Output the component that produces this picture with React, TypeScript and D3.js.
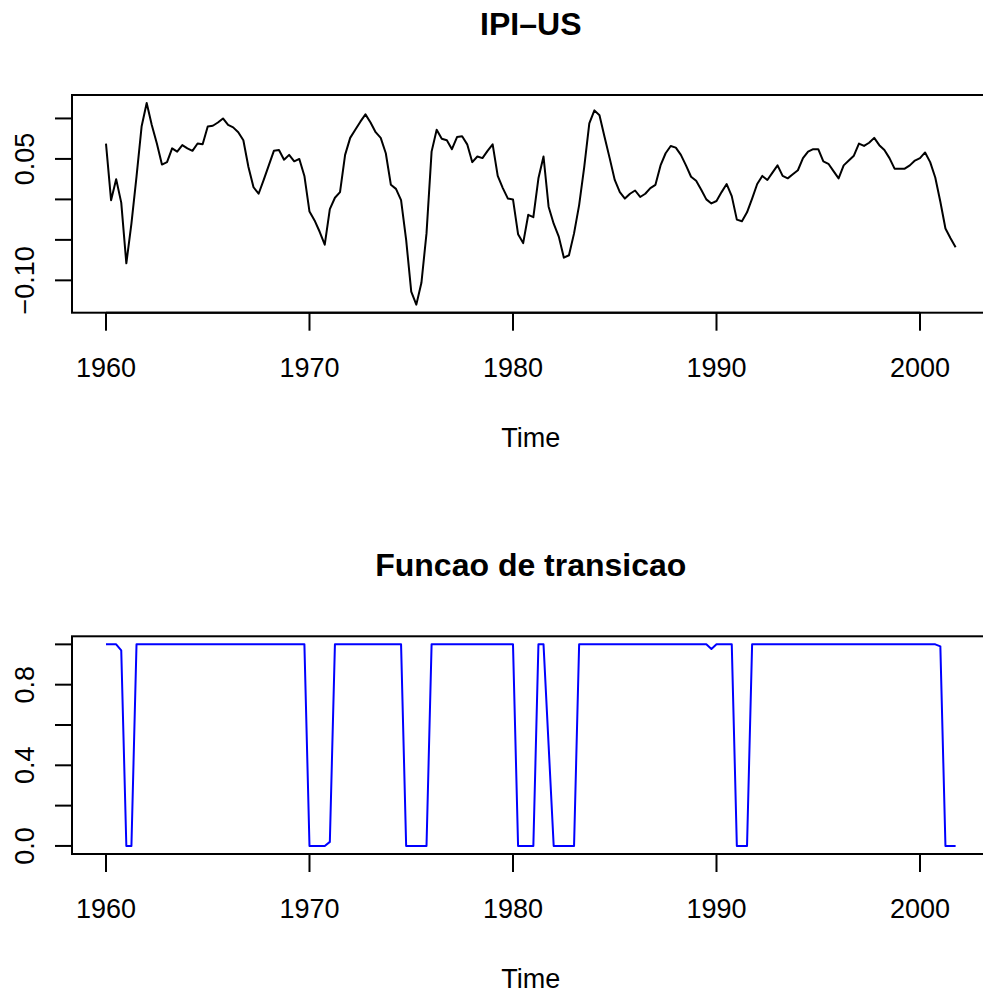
import React from "react";
import * as d3 from "d3";

const startYear = 1960;
const frequency = 4;

const ipiValues: number[] = [
  0.069, -0.001, 0.025, -0.004, -0.079, -0.030, 0.028, 0.090, 0.119, 0.092,
  0.069, 0.043, 0.046, 0.063, 0.059, 0.067, 0.063, 0.060, 0.069, 0.068,
  0.090, 0.091, 0.095, 0.100, 0.092, 0.089, 0.083, 0.073, 0.040, 0.015,
  0.007, 0.024, 0.042, 0.060, 0.061, 0.049, 0.055, 0.047, 0.050, 0.029,
  -0.015, -0.026, -0.040, -0.056, -0.012, 0.002, 0.009, 0.055, 0.076, 0.086,
  0.096, 0.105, 0.095, 0.083, 0.076, 0.057, 0.018, 0.013, -0.001, -0.050,
  -0.114, -0.130, -0.103, -0.042, 0.059, 0.086, 0.075, 0.073, 0.062, 0.077,
  0.078, 0.068, 0.046, 0.053, 0.051, 0.060, 0.068, 0.029, 0.014, 0.001,
  0.000, -0.043, -0.054, -0.019, -0.022, 0.026, 0.053, -0.009, -0.030, -0.046,
  -0.072, -0.069, -0.042, -0.007, 0.040, 0.094, 0.110, 0.104, 0.077, 0.051,
  0.024, 0.009, 0.001, 0.007, 0.011, 0.003, 0.007, 0.014, 0.018, 0.042,
  0.057, 0.066, 0.064, 0.055, 0.042, 0.028, 0.023, 0.012, 0.000, -0.005,
  -0.002, 0.009, 0.019, 0.004, -0.025, -0.027, -0.016, 0.001, 0.019, 0.029,
  0.024, 0.033, 0.042, 0.029, 0.026, 0.031, 0.036, 0.051, 0.059, 0.062,
  0.062, 0.047, 0.044, 0.035, 0.026, 0.042, 0.048, 0.054, 0.069, 0.066,
  0.070, 0.076, 0.067, 0.061, 0.051, 0.038, 0.038, 0.038, 0.042, 0.048,
  0.051, 0.058, 0.046, 0.027, -0.003, -0.036, -0.048, -0.059,
];

const transitionValues: number[] = [
  1, 1, 1, 0.97, 0, 0, 1, 1, 1, 1,
  1, 1, 1, 1, 1, 1, 1, 1, 1, 1,
  1, 1, 1, 1, 1, 1, 1, 1, 1, 1,
  1, 1, 1, 1, 1, 1, 1, 1, 1, 1,
  0, 0, 0, 0, 0.02, 1, 1, 1, 1, 1,
  1, 1, 1, 1, 1, 1, 1, 1, 1, 0,
  0, 0, 0, 0, 1, 1, 1, 1, 1, 1,
  1, 1, 1, 1, 1, 1, 1, 1, 1, 1,
  1, 0, 0, 0, 0, 1, 1, 0.5, 0, 0,
  0, 0, 0, 1, 1, 1, 1, 1, 1, 1,
  1, 1, 1, 1, 1, 1, 1, 1, 1, 1,
  1, 1, 1, 1, 1, 1, 1, 1, 1, 0.977,
  1, 1, 1, 1, 0, 0, 0, 1, 1, 1,
  1, 1, 1, 1, 1, 1, 1, 1, 1, 1,
  1, 1, 1, 1, 1, 1, 1, 1, 1, 1,
  1, 1, 1, 1, 1, 1, 1, 1, 1, 1,
  1, 1, 1, 1, 0.99, 0, 0, 0,
];

const xTicks = [1960, 1970, 1980, 1990, 2000];
const topYTicks = [-0.1, -0.05, 0, 0.05, 0.1];
const topYLabels = ["\u22120.10", "", "", "0.05", ""];
const botYTicks = [0, 0.2, 0.4, 0.6, 0.8, 1.0];
const botYLabels = ["0.0", "", "0.4", "", "0.8", ""];

const FONT = "'Liberation Sans', Arial, Helvetica, sans-serif";

type PanelProps = {
  values: number[];
  title: string;
  color: string;
  yTicks: number[];
  yLabels: string[];
  offsetY: number;
};

function Panel({ values, title, color, yTicks, yLabels, offsetY }: PanelProps) {
  const left = 72;
  const right = 989.6;
  const top = 95 + offsetY;
  const bottom = 312.7 + offsetY;
  const times = values.map((_, i) => startYear + i / frequency);
  const [t0, t1] = d3.extent(times) as [number, number];
  const tp = (t1 - t0) * 0.04;
  const [v0, v1] = d3.extent(values) as [number, number];
  const vp = (v1 - v0) * 0.04;
  const x = d3.scaleLinear().domain([t0 - tp, t1 + tp]).range([left, right]);
  const y = d3.scaleLinear().domain([v0 - vp, v1 + vp]).range([bottom, top]);
  const line = d3
    .line<number>()
    .x((_, i) => x(times[i]))
    .y((d) => y(d));
  const tickLen = 18;
  const labelSize = 27;
  const cx = (left + right) / 2;
  return (
    <g>
      <text
        x={cx}
        y={35 + offsetY}
        textAnchor="middle"
        fontFamily={FONT}
        fontWeight="bold"
        fontSize={32}
        fill="#000"
      >
        {title}
      </text>
      <path d={line(values) || ""} fill="none" stroke={color} strokeWidth={2} strokeLinejoin="round" />
      <rect x={left} y={top} width={right - left} height={bottom - top} fill="none" stroke="#000" strokeWidth={2} />
      {/* x axis */}
      <line x1={x(xTicks[0])} x2={x(xTicks[xTicks.length - 1])} y1={bottom} y2={bottom} stroke="#000" strokeWidth={2} />
      {xTicks.map((t) => (
        <g key={"x" + t}>
          <line x1={x(t)} x2={x(t)} y1={bottom} y2={bottom + tickLen} stroke="#000" strokeWidth={2} />
          <text x={x(t)} y={376.7 + offsetY} textAnchor="middle" fontFamily={FONT} fontSize={labelSize} fill="#000">
            {t}
          </text>
        </g>
      ))}
      <text x={cx} y={447 + offsetY} textAnchor="middle" fontFamily={FONT} fontSize={labelSize} fill="#000">
        Time
      </text>
      {/* y axis */}
      <line x1={left} x2={left} y1={y(yTicks[0])} y2={y(yTicks[yTicks.length - 1])} stroke="#000" strokeWidth={2} />
      {yTicks.map((t, i) => (
        <g key={"y" + i}>
          <line x1={left - tickLen + 1} x2={left} y1={y(t)} y2={y(t)} stroke="#000" strokeWidth={2} />
          {yLabels[i] ? (
            <text
              transform={`translate(33.5,${y(t)}) rotate(-90)`}
              textAnchor="middle"
              fontFamily={FONT}
              fontSize={labelSize}
              fill="#000"
            >
              {yLabels[i]}
            </text>
          ) : null}
        </g>
      ))}
    </g>
  );
}

export default function App() {
  return (
    <div style={{ position: "absolute", left: 0, top: 0, width: 983, height: 997, background: "#fff" }}>
      <svg width={983} height={997} style={{ display: "block" }}>
        <rect x={0} y={0} width={983} height={997} fill="#fff" />
        <Panel values={ipiValues} title={"IPI\u2013US"} color="#000" yTicks={topYTicks} yLabels={topYLabels} offsetY={0} />
        <Panel
          values={transitionValues}
          title="Funcao de transicao"
          color="#0000ff"
          yTicks={botYTicks}
          yLabels={botYLabels}
          offsetY={541.3}
        />
      </svg>
    </div>
  );
}
